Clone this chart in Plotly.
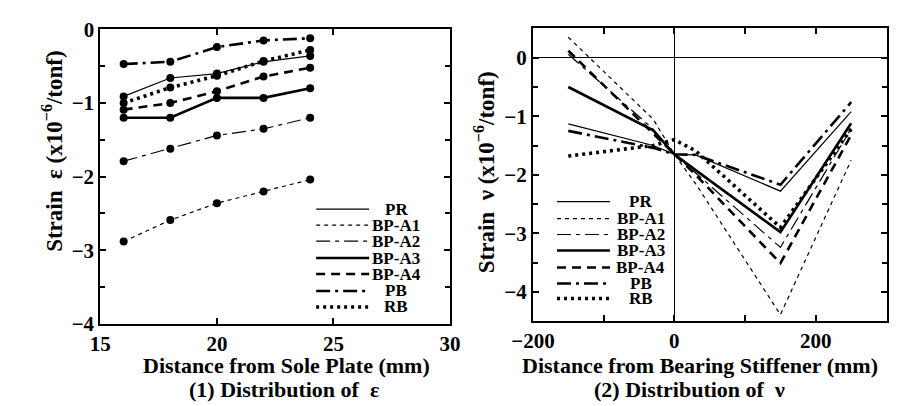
import plotly.graph_objects as go

W, H = 903, 406

series_names = ["PR", "BP-A1", "BP-A2", "BP-A3", "BP-A4", "PB", "RB"]

# Left chart: distance from sole plate (mm) vs strain epsilon
eps_x = [16, 18, 20, 22, 24]
eps_PR = [-0.91, -0.66, -0.60, -0.44, -0.36]
eps_BPA1 = [-2.88, -2.59, -2.36, -2.20, -2.04]
eps_BPA2 = [-1.79, -1.62, -1.44, -1.35, -1.20]
eps_BPA3 = [-1.20, -1.20, -0.93, -0.93, -0.80]
eps_BPA4 = [-1.09, -1.00, -0.84, -0.64, -0.52]
eps_PB = [-0.47, -0.44, -0.24, -0.15, -0.12]
eps_RB = [-1.00, -0.79, -0.63, -0.43, -0.28]

# Right chart: distance from bearing stiffener (mm) vs strain nu
nu_x = [-150, -30, 0, 30, 150, 250]
nu_PR = [-1.13, -1.50, -1.65, -1.66, -2.28, -0.92]
nu_BPA1 = [0.35, -1.05, -1.65, -2.15, -4.39, -1.75]
nu_BPA2 = [0.06, -1.22, -1.65, -1.97, -3.24, -1.21]
nu_BPA3 = [-0.50, -1.24, -1.65, -1.92, -2.98, -1.12]
nu_BPA4 = [0.12, -1.30, -1.65, -2.00, -3.51, -1.32]
nu_PB = [-1.25, -1.54, -1.65, -1.66, -2.17, -0.76]
nu_RB = [-1.68, -1.50, -1.40, -1.59, -2.90, -1.22]

eps_vals = [eps_PR, eps_BPA1, eps_BPA2, eps_BPA3, eps_BPA4, eps_PB, eps_RB]
nu_vals = [nu_PR, nu_BPA1, nu_BPA2, nu_BPA3, nu_BPA4, nu_PB, nu_RB]

styles = {
    "PR": dict(width=1.2, dash="solid"),
    "BP-A1": dict(width=1.2, dash="4px,4px"),
    "BP-A2": dict(width=1.2, dash="14px,5px,4px,5px"),
    "BP-A3": dict(width=2.6, dash="solid"),
    "BP-A4": dict(width=2.6, dash="9px,6px"),
    "PB": dict(width=2.6, dash="14px,5px,3px,5px"),
    "RB": dict(width=3.6, dash="3px,4px"),
}

FONT = "Liberation Serif"

def px(x):
    return x / W

def py(y):
    return 1 - y / H

fig = go.Figure()

for name, vals in zip(series_names, eps_vals):
    fig.add_trace(go.Scatter(
        x=eps_x, y=vals, mode="lines+markers", name=name, showlegend=False,
        line=dict(color="black", **styles[name]),
        marker=dict(color="black", size=8),
        xaxis="x", yaxis="y"))

for name, vals in zip(series_names, nu_vals):
    fig.add_trace(go.Scatter(
        x=nu_x, y=vals, mode="lines", name=name, showlegend=False,
        line=dict(color="black", **styles[name]),
        xaxis="x2", yaxis="y2"))

tickfont = dict(family=FONT, size=21, color="black", weight="bold")
axis_common = dict(showline=True, linecolor="black", linewidth=2, mirror="ticks",
                   ticks="inside", ticklen=6, tickwidth=1.5, tickcolor="black",
                   showgrid=False, tickfont=tickfont, ticklabeloverflow="allow")

fig.update_layout(
    width=W, height=H,
    margin=dict(l=0, r=0, t=0, b=0),
    paper_bgcolor="white", plot_bgcolor="white",
    xaxis=dict(domain=[px(73), px(436)], range=[15, 30], dtick=5, tick0=15,
               zeroline=False, anchor="y", ticklabelstandoff=0, **axis_common),
    yaxis=dict(domain=[py(323), py(10)], range=[-4, 0], dtick=1, tick0=0,
               zeroline=False, anchor="x",
               minor=dict(dtick=0.5, ticks="inside", ticklen=5, tickcolor="black"),
               **axis_common),
    xaxis2=dict(domain=[px(522), px(889)], range=[-200, 300],
                tickvals=[-200, -100, 0, 100, 200, 300],
                ticktext=["−200", "", "0", "", "200", ""],
                zeroline=True, zerolinecolor="black", zerolinewidth=1,
                anchor="y2", ticklabelstandoff=0, **axis_common),
    yaxis2=dict(domain=[py(320), py(9)], range=[-4.5, 0.5], dtick=1, tick0=0,
                zeroline=True, zerolinecolor="black", zerolinewidth=1,
                anchor="x2",
                minor=dict(dtick=0.5, ticks="inside", ticklen=5, tickcolor="black"),
                **axis_common),
)

txt = dict(family=FONT, color="black", weight="bold")
annotations = [
    dict(text="Strain  ε (x10<sup>−6</sup>/tonf)", x=px(24), y=py(140), textangle=-90,
         font=dict(size=23, **txt)),
    dict(text="Strain  ν (x10<sup>−6</sup>/tonf)", x=px(472), y=py(162), textangle=-90,
         font=dict(size=23, **txt)),
    dict(text="Distance from Sole Plate (mm)", x=px(266), y=py(367),
         font=dict(size=22, **txt)),
    dict(text="Distance from Bearing Stiffener (mm)", x=px(695), y=py(367),
         font=dict(size=22, **txt)),
    dict(text="(1) Distribution of  ε", x=px(264), y=py(393),
         font=dict(size=22, **txt)),
    dict(text="(2) Distribution of  ν", x=px(684), y=py(393),
         font=dict(size=22, **txt)),
]

shapes = []
leg_left_rows = [201, 218, 235, 253, 270, 288, 305]
leg_right_rows = [193, 211, 228, 245, 263, 280, 296]
for name, yl, yr in zip(series_names, leg_left_rows, leg_right_rows):
    for (x0, x1, xt, yy) in [(297, 352, 380, yl), (547, 602, 634, yr)]:
        shapes.append(dict(type="line", xref="paper", yref="paper",
                           x0=px(x0), x1=px(x1), y0=py(yy), y1=py(yy),
                           line=dict(color="black", **styles[name])))
        annotations.append(dict(text=name, x=px(xt), y=py(yy),
                                font=dict(size=17, **txt)))

for a in annotations:
    a.setdefault("xref", "paper")
    a.setdefault("yref", "paper")
    a.setdefault("showarrow", False)
    a.setdefault("xanchor", "center")
    a.setdefault("yanchor", "middle")

fig.update_layout(annotations=annotations, shapes=shapes)

fig.write_html("out.html")
